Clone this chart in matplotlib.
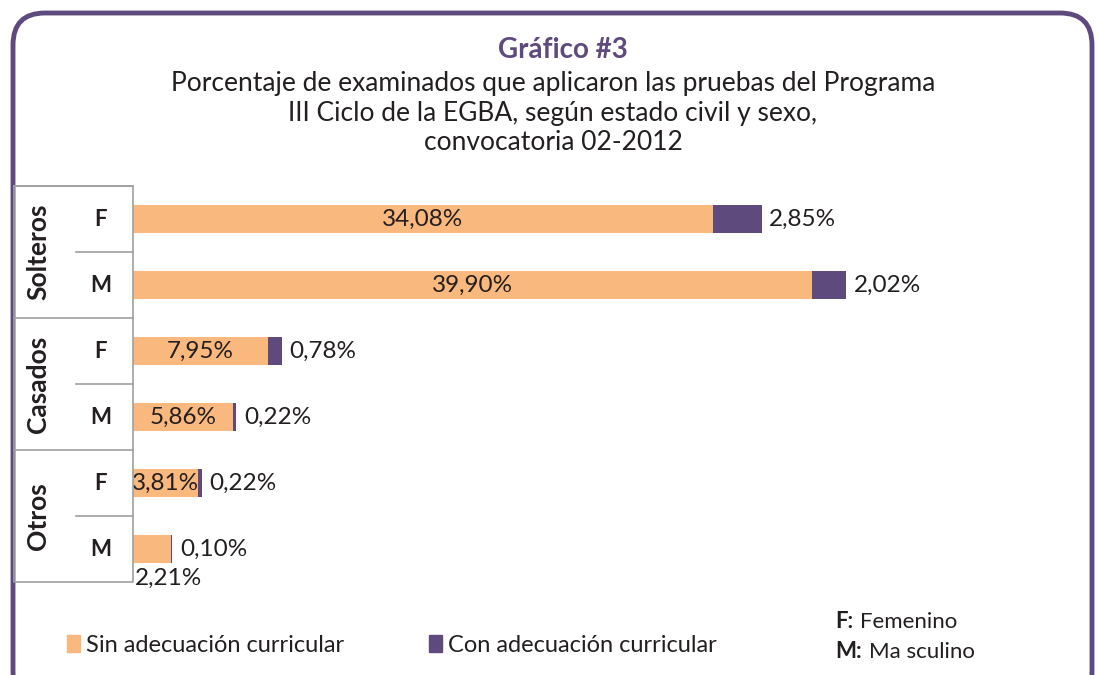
#import libraries
import matplotlib.pyplot as plt
from matplotlib.patches import FancyBboxPatch, Patch

#data
groups = ['Solteros', 'Casados', 'Otros']
sexes = ['F', 'M', 'F', 'M', 'F', 'M']
sin_adec = [34.08, 39.90, 7.95, 5.86, 3.81, 2.21]
con_adec = [2.85, 2.02, 0.78, 0.22, 0.22, 0.10]

orange = '#f9b87d'
purple = '#5e4a7c'
dark = '#231f20'
grid_gray = '#a0a0a0'
font = 'Lato'


def pct(v):
    return ('%.2f' % v).replace('.', ',') + '%'


def main():
    plt.rcParams['font.family'] = [font, 'DejaVu Sans']
    W, H = 1097, 675
    fig = plt.figure(figsize=(W / 100, H / 100), dpi=100)

    #background axes in pixel units, for frame, title and legend
    bg = fig.add_axes([0, 0, 1, 1])
    bg.set_xlim(0, W)
    bg.set_ylim(H, 0)
    bg.axis('off')
    frame = FancyBboxPatch((13, 13), 1079, 690,
                           boxstyle='round,pad=0,rounding_size=32',
                           fc='white', ec=purple, lw=3.5)
    bg.add_patch(frame)

    bg.text(563, 50, 'Gráfico #3', ha='center', va='center',
            fontsize=20, fontweight='bold', color=purple)
    subtitle = ('Porcentaje de examinados que aplicaron las pruebas del Programa\n'
                'III Ciclo de la EGBA, según estado civil y sexo,\n'
                'convocatoria 02-2012')
    bg.text(553, 113, subtitle, ha='center', va='center', fontsize=19,
            color=dark, linespacing=1.25)

    #F / M key on the bottom right
    bg.text(835, 622, 'F:', ha='left', va='center', fontsize=16,
            fontweight='bold', color=dark)
    bg.text(860, 622, 'Femenino', ha='left', va='center', fontsize=16, color=dark)
    bg.text(835, 652, 'M:', ha='left', va='center', fontsize=16,
            fontweight='bold', color=dark)
    bg.text(869, 652, 'Ma sculino', ha='left', va='center', fontsize=16, color=dark)

    #bar axes: rows 66 px apart, 17.02 px per percent
    left_px, right_px, top_px, bot_px = 133, 1090, 186, 582
    ax = fig.add_axes([left_px / W, 1 - bot_px / H,
                       (right_px - left_px) / W, (bot_px - top_px) / H])
    ax.set_xlim(0, (right_px - left_px) / 17.02)
    ax.set_ylim(len(sexes) - 0.5, -0.5)
    ax.axis('off')

    rows = list(range(len(sexes)))
    ax.barh(rows, sin_adec, height=0.41, color=orange, label='Sin adecuación curricular')
    ax.barh(rows, con_adec, left=sin_adec, height=0.41, color=purple,
            label='Con adecuación curricular')

    for i in rows:
        s = sin_adec[i]
        c = con_adec[i]
        if s > 3:
            ax.text(s / 2, i, pct(s), ha='center', va='center', fontsize=17.5,
                    color=dark, clip_on=True)
        else:
            ax.text(0.1, i + 0.44, pct(s), ha='left', va='center', fontsize=17.5,
                    color=dark)
        ax.text(s + c + 0.45, i, pct(c), ha='left', va='center', fontsize=17.5,
                color=dark)

    #table with group and sex labels
    tb = fig.add_axes([14 / W, 1 - bot_px / H, (left_px - 14) / W, (bot_px - top_px) / H])
    tb.set_xlim(0, left_px - 14)
    tb.set_ylim(len(sexes) - 0.5, -0.5)
    tb.axis('off')
    tw = left_px - 14
    tb.plot([0, tw, tw, 0, 0], [-0.5, -0.5, 5.5, 5.5, -0.5], color=grid_gray, lw=1.2,
            clip_on=False)
    for g in range(len(groups)):
        y0 = g * 2 - 0.5
        tb.plot([0, tw], [y0, y0], color=grid_gray, lw=1.2, clip_on=False)
        tb.plot([62, tw], [y0 + 1, y0 + 1], color=grid_gray, lw=1.2, clip_on=False)
        tb.text(24, y0 + 1, groups[g], rotation=90, ha='center', va='center',
                fontsize=19, fontweight='bold', color=dark)
    for i in rows:
        tb.text(87, i, sexes[i], ha='center', va='center', fontsize=16,
                fontweight='bold', color=dark)

    #legend
    handles = [Patch(color=orange, label='Sin adecuación curricular'),
               Patch(color=purple, label='Con adecuación curricular')]
    fig.legend(handles=handles, loc='center left', bbox_to_anchor=(46 / W, 1 - 645 / H),
               ncol=2, frameon=False, fontsize=17, handlelength=0.55, handleheight=0.7,
               handletextpad=0.25, columnspacing=3.6, labelcolor=dark)

    fig.savefig('out.png', dpi=100)


if __name__ == '__main__':
    main()
